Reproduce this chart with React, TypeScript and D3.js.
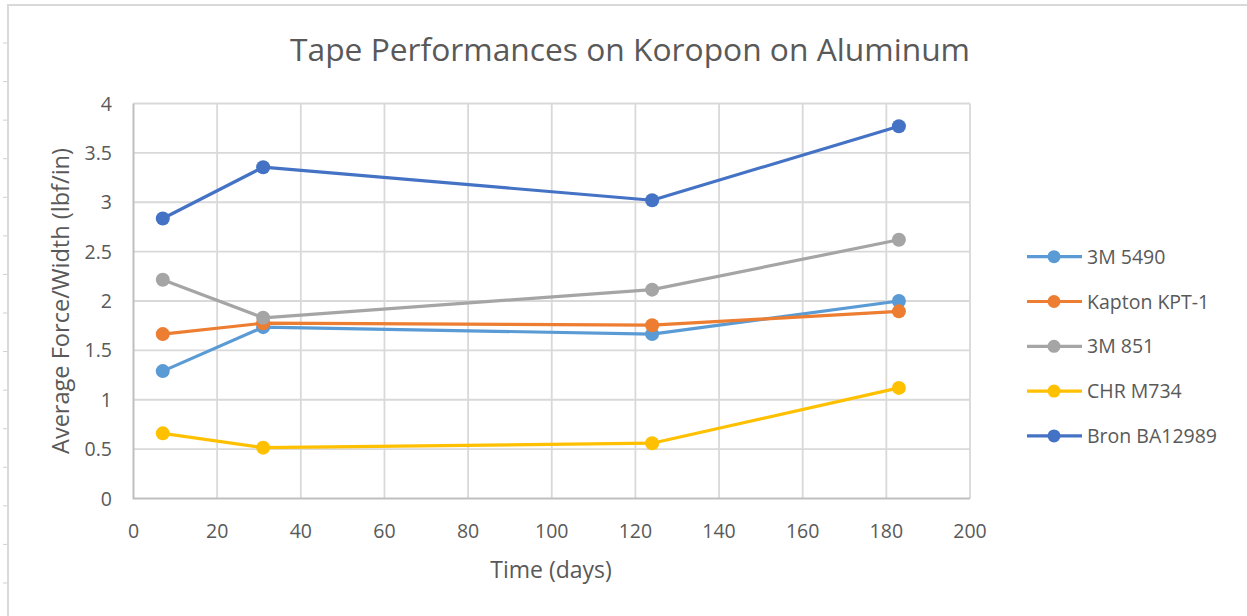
import React, { useRef, useEffect } from 'react';
import * as d3 from 'd3';

const days = [7, 31, 124, 183];
const tape3M5490 = [1.29, 1.735, 1.665, 2.0];
const kaptonKPT1 = [1.665, 1.775, 1.755, 1.895];
const tape3M851 = [2.215, 1.83, 2.115, 2.62];
const chrM734 = [0.66, 0.515, 0.56, 1.12];
const bronBA12989 = [2.835, 3.355, 3.02, 3.77];

const seriesNames = ['3M 5490', 'Kapton KPT-1', '3M 851', 'CHR M734', 'Bron BA12989'];
const seriesValues = [tape3M5490, kaptonKPT1, tape3M851, chrM734, bronBA12989];
const seriesColors = ['#5b9bd5', '#ed7d31', '#a5a5a5', '#ffc000', '#4472c4'];

const xTicks = [0, 20, 40, 60, 80, 100, 120, 140, 160, 180, 200];
const yTicks = [0, 0.5, 1, 1.5, 2, 2.5, 3, 3.5, 4];

const W = 1247;
const H = 616;
const FONT = '"Open Sans", "DejaVu Sans", sans-serif';
const TEXT = '#595959';

const App = () => {
    const svgRef = useRef<SVGSVGElement>(null);

    useEffect(() => {
        const svg = d3.select(svgRef.current);
        svg.selectAll('*').remove();

        const x = d3.scaleLinear().domain([0, 200]).range([133.5, 970]);
        const y = d3.scaleLinear().domain([0, 4]).range([498.5, 103.5]);

        // white background + outer chart frame
        svg.append('rect').attr('width', W).attr('height', H).attr('fill', '#ffffff');
        svg.append('path')
            .attr('d', `M8,${H} L8,5 L${W},5`)
            .attr('fill', 'none')
            .attr('stroke', '#d9d9d9')
            .attr('stroke-width', 2);

        // little sheet row marks on the far left
        const rows = d3.range(43, 600, 38.57);
        svg.append('g').selectAll('line').data(rows).enter().append('line')
            .attr('x1', 3).attr('x2', 7)
            .attr('y1', (d) => d).attr('y2', (d) => d)
            .attr('stroke', '#d0d0d0').attr('stroke-width', 1);

        // title
        svg.append('text')
            .attr('x', 630).attr('y', 61)
            .attr('text-anchor', 'middle')
            .attr('font-family', FONT)
            .attr('font-size', 31)
            .attr('fill', TEXT)
            .attr('textLength', 680)
            .attr('lengthAdjust', 'spacingAndGlyphs')
            .text('Tape Performances on Koropon on Aluminum');

        // gridlines
        const grid = svg.append('g');
        grid.selectAll('.hg').data(yTicks.filter((d) => d > 0)).enter().append('line')
            .attr('x1', x(0)).attr('x2', x(200))
            .attr('y1', (d) => y(d)).attr('y2', (d) => y(d))
            .attr('stroke', '#d9d9d9').attr('stroke-width', 1.8);
        grid.selectAll('.vg').data(xTicks.filter((d) => d > 0)).enter().append('line')
            .attr('x1', (d) => x(d)).attr('x2', (d) => x(d))
            .attr('y1', y(0)).attr('y2', y(4))
            .attr('stroke', '#d9d9d9').attr('stroke-width', 1.8);

        // axis lines
        svg.append('path')
            .attr('d', `M${x(0)},${y(4)} L${x(0)},${y(0)} L${x(200)},${y(0)}`)
            .attr('fill', 'none')
            .attr('stroke', '#bfbfbf')
            .attr('stroke-width', 2);

        // tick labels
        svg.append('g').selectAll('text').data(yTicks).enter().append('text')
            .attr('x', 112).attr('y', (d) => y(d))
            .attr('dy', '0.36em')
            .attr('text-anchor', 'end')
            .attr('font-family', FONT).attr('font-size', 19.5).attr('fill', TEXT)
            .text((d) => String(d));
        svg.append('g').selectAll('text').data(xTicks).enter().append('text')
            .attr('x', (d) => x(d)).attr('y', 538)
            .attr('text-anchor', 'middle')
            .attr('font-family', FONT).attr('font-size', 19.5).attr('fill', TEXT)
            .text((d) => String(d));

        // axis titles
        svg.append('text')
            .attr('x', 551).attr('y', 578)
            .attr('text-anchor', 'middle')
            .attr('font-family', FONT).attr('font-size', 23).attr('fill', TEXT)
            .text('Time (days)');
        svg.append('text')
            .attr('transform', 'translate(69,301) rotate(-90)')
            .attr('text-anchor', 'middle')
            .attr('font-family', FONT).attr('font-size', 23.5).attr('fill', TEXT)
            .attr('textLength', 306)
            .attr('lengthAdjust', 'spacingAndGlyphs')
            .text('Average Force/Width (lbf/in)');

        // series
        const line = d3.line<number>()
            .x((d, i) => x(days[i]))
            .y((d) => y(d));

        seriesValues.forEach((vals, si) => {
            const g = svg.append('g');
            g.append('path')
                .attr('d', line(vals))
                .attr('fill', 'none')
                .attr('stroke', seriesColors[si])
                .attr('stroke-width', 3.2)
                .attr('stroke-linejoin', 'round');
            g.selectAll('circle').data(vals).enter().append('circle')
                .attr('cx', (d, i) => x(days[i]))
                .attr('cy', (d) => y(d))
                .attr('r', 7)
                .attr('fill', seriesColors[si]);
        });

        // legend
        const legend = svg.append('g');
        seriesNames.forEach((name, i) => {
            const ly = 256.7 + i * 44.8;
            legend.append('line')
                .attr('x1', 1027).attr('x2', 1082)
                .attr('y1', ly).attr('y2', ly)
                .attr('stroke', seriesColors[i]).attr('stroke-width', 3.2);
            legend.append('circle')
                .attr('cx', 1054).attr('cy', ly).attr('r', 6.5)
                .attr('fill', seriesColors[i]);
            legend.append('text')
                .attr('x', 1087).attr('y', ly)
                .attr('dy', '0.36em')
                .attr('font-family', FONT).attr('font-size', 19.5).attr('fill', TEXT)
                .text(name);
        });
    }, []);

    return (
        <div style={{ position: 'fixed', left: 0, top: 0, width: W, height: H }}>
            <svg ref={svgRef} width={W} height={H} style={{ display: 'block' }}></svg>
        </div>
    );
};

export default App;
